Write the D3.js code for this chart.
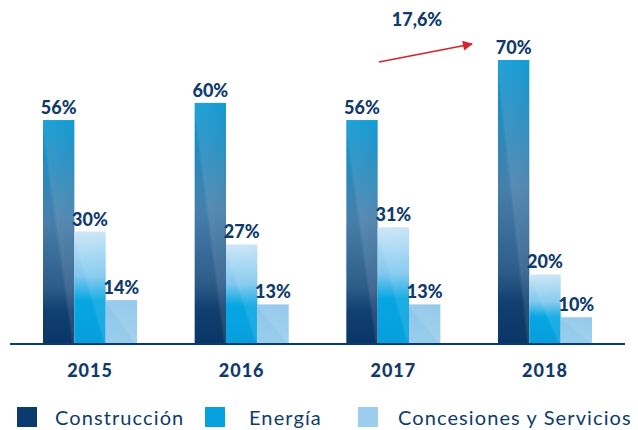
<!DOCTYPE html>
<html>
<head>
<meta charset="utf-8">
<script src="https://cdn.jsdelivr.net/npm/d3@7"></script>
<style>
  body { margin: 0; background: #fff; }
  svg { display: block; }
  text { font-family: Lato, "Open Sans", sans-serif; fill: #0f3b6c; }
</style>
</head>
<body>
<svg id="chart" width="638" height="430"></svg>
<script>
// chart values
var years = ["2015", "2016", "2017", "2018"];
var seriesNames = ["Construcción", "Energía", "Concesiones y Servicios"];
var construccion = [56, 60, 56, 70];
var energia = [30, 27, 31, 20];
var concesiones = [14, 13, 13, 10];
var growthLabel = "17,6%";

var svg = d3.select("#chart");
var baseY = 343;

var x = d3.scaleBand().domain(years).range([43, 592]).paddingInner(0.38).paddingOuter(0);
var xs = d3.scaleBand().domain(seriesNames).range([0, x.bandwidth()]);
// picture is not drawn exactly to scale, fitted line
var y = d3.scaleLinear().domain([4, 70]).range([baseY, 60]);

var defs = svg.append("defs");
function vgrad(id, stops) {
    var g = defs.append("linearGradient").attr("id", id)
        .attr("x1", 0).attr("y1", 0).attr("x2", 0).attr("y2", 1);
    stops.forEach(function(s) {
        g.append("stop").attr("offset", s[0]).attr("stop-color", s[1]);
    });
}
vgrad("gConst", [[0, "#0998d1"], [0.1, "#1690c8"], [0.45, "#477fab"], [0.75, "#2e5c89"], [0.86, "#103f70"], [1, "#0a3666"]]);
vgrad("gEner", [[0, "#c9e4f6"], [0.4, "#7fc8ee"], [0.62, "#05a6e2"], [1, "#079fdc"]]);
vgrad("gConc", [[0, "#8fc6ea"], [1, "#98cdec"]]);
var sheen = defs.append("linearGradient").attr("id", "sheen")
    .attr("x1", 0).attr("y1", 1).attr("x2", 1).attr("y2", 0);
sheen.append("stop").attr("offset", 0.45).attr("stop-color", "#fff").attr("stop-opacity", 0);
sheen.append("stop").attr("offset", 0.5).attr("stop-color", "#fff").attr("stop-opacity", 0.1);
sheen.append("stop").attr("offset", 1).attr("stop-color", "#fff").attr("stop-opacity", 0.04);

var fills = ["url(#gConst)", "url(#gEner)", "url(#gConc)"];
var legendColors = ["#0b3a6e", "#05a2df", "#9bcdee"];
var seriesValues = [construccion, energia, concesiones];

var rows = [];
years.forEach(function(yr, i) {
    seriesNames.forEach(function(s, j) {
        rows.push({ year: yr, series: s, idx: j, value: seriesValues[j][i] });
    });
});

var bars = svg.append("g").selectAll("g.bar").data(rows).enter().append("g").attr("class", "bar");
bars.append("rect")
    .attr("x", function(d) { return x(d.year) + xs(d.series); })
    .attr("y", function(d) { return y(d.value); })
    .attr("width", xs.bandwidth())
    .attr("height", function(d) { return baseY - y(d.value); })
    .attr("fill", function(d) { return fills[d.idx]; });
bars.append("rect")
    .attr("x", function(d) { return x(d.year) + xs(d.series); })
    .attr("y", function(d) { return y(d.value); })
    .attr("width", xs.bandwidth())
    .attr("height", function(d) { return baseY - y(d.value); })
    .attr("fill", "url(#sheen)");
bars.append("text")
    .attr("x", function(d) { return x(d.year) + xs(d.series) + xs.bandwidth() / 2; })
    .attr("y", function(d) { return y(d.value) - 6; })
    .attr("text-anchor", "middle")
    .style("font-size", "18px")
    .style("font-weight", 900)
    .text(function(d) { return d.value + "%"; });

// baseline
svg.append("line")
    .attr("x1", 10).attr("x2", 625)
    .attr("y1", baseY + 1).attr("y2", baseY + 1)
    .attr("stroke", "#0b3a6e").attr("stroke-width", 2);

// year labels
svg.append("g").selectAll("text").data(years).enter().append("text")
    .attr("x", function(d) { return x(d) + x.bandwidth() / 2; })
    .attr("y", 377)
    .attr("text-anchor", "middle")
    .style("font-size", "18px")
    .style("font-weight", 900)
    .style("letter-spacing", "1px")
    .text(function(d) { return d; });

// growth arrow
defs.append("marker").attr("id", "arrow")
    .attr("viewBox", "0 0 10 10").attr("refX", 9).attr("refY", 5)
    .attr("markerWidth", 16).attr("markerHeight", 10).attr("markerUnits", "userSpaceOnUse")
    .attr("orient", "auto")
    .append("path").attr("d", "M0,0L10,5L0,10Z").attr("fill", "#d5232c");
svg.append("line")
    .attr("x1", 379).attr("y1", 62).attr("x2", 472).attr("y2", 44)
    .attr("stroke", "#d5232c").attr("stroke-width", 1.5)
    .attr("marker-end", "url(#arrow)");
svg.append("text")
    .attr("x", 417).attr("y", 26)
    .attr("text-anchor", "middle")
    .style("font-size", "18px")
    .style("font-weight", 900)
    .text(growthLabel);

// legend
var legendX = [17, 205, 358];
var lg = svg.append("g").selectAll("g").data(seriesNames).enter().append("g")
    .attr("transform", function(d, i) { return "translate(" + legendX[i] + ",407)"; });
lg.append("rect").attr("width", 20).attr("height", 20)
    .attr("fill", function(d, i) { return legendColors[i]; });
lg.append("text")
    .attr("x", function(d, i) { return [38, 44, 40][i]; })
    .attr("y", 18)
    .style("font-size", "20px")
    .style("letter-spacing", "1.1px")
    .text(function(d) { return d; });
</script>
</body>
</html>
